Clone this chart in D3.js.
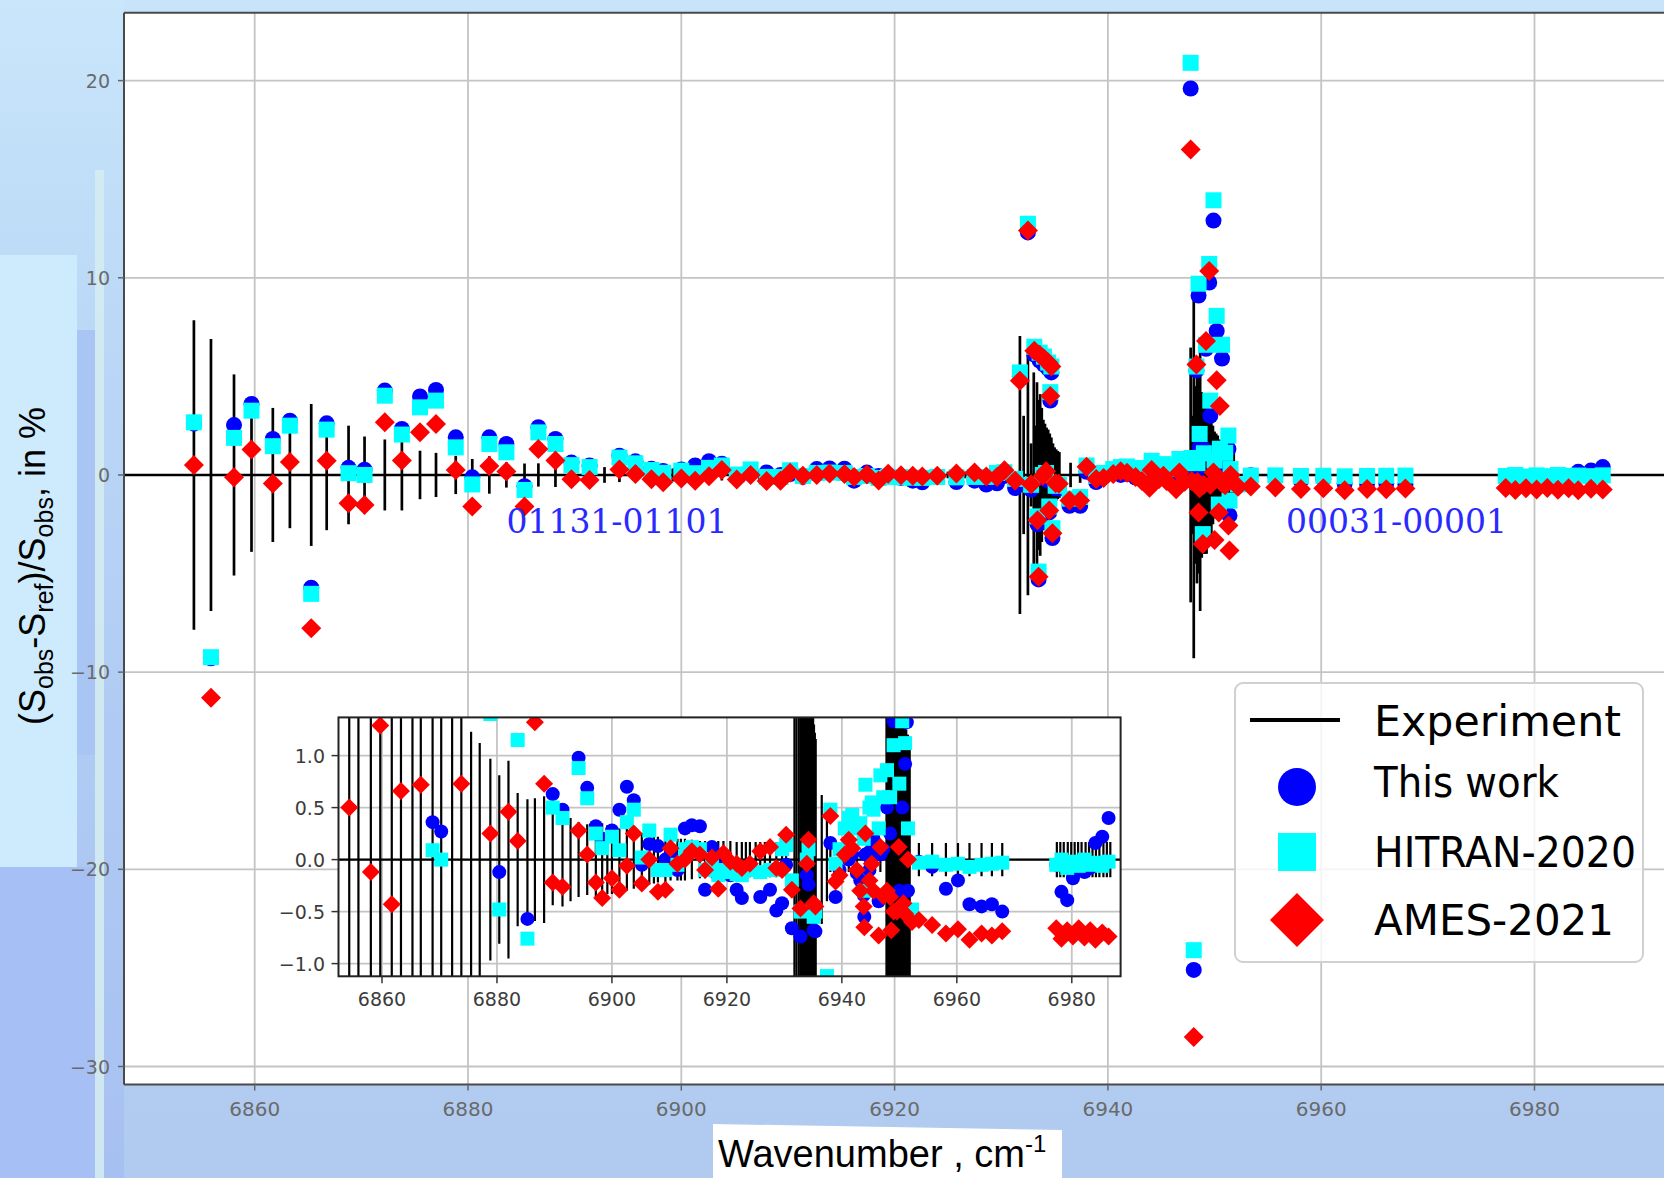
<!DOCTYPE html>
<html><head><meta charset="utf-8">
<script src="https://cdn.jsdelivr.net/npm/d3@7"></script>
<style>html,body{margin:0;padding:0;background:#c6e3fa;overflow:hidden}</style>
</head><body><svg id="c" width="1664" height="1178"></svg>
<script>
// ---------------- DATA ----------------
const xTicks = [6860, 6880, 6900, 6920, 6940, 6960, 6980];
const yTicks = [20, 10, 0, -10, -20, -30];
const insetYTicks = [1.0, 0.5, 0.0, -0.5, -1.0];
const seriesNames = ["Experiment", "This work", "HITRAN-2020", "AMES-2021"];
const bandLabels = ["01131-01101", "00031-00001"];
const bandLabelNu = [6883.6, 6956.7];
const bandLabelVal = [-2.95, -2.95];

const lineNu = [6854.3,6855.9,6858.06,6859.7,6861.7,6863.3,6865.3,6866.75,6868.8,6870.3,6872.2,6873.8,6875.5,6877.0,6878.85,6880.4,6882.0,6883.6,6885.3,6886.6,6888.2,6889.7,6891.4,
6894.2,6895.7,6897.2,6898.3,6900.0,6901.3,6902.6,6903.8,6905.2,6906.5,6908.0,6909.3,6910.2,6911.4,6912.7,6913.9,6915.3,6916.2,6917.4,6918.5,6919.4,6920.6,6921.7,6922.6,6924.0,6925.8,6927.5,6928.6,6929.6,6930.3,
6931.3,6931.75,6932.5,6932.8,6933.1,6933.4,6933.5,6933.6,6933.9,6934.0,6934.2,6934.4,6934.5,6934.6,6934.7,6934.8,6935.1,6935.4,6936.4,6937.4,
6938.0,6938.9,6939.6,6940.5,6941.2,6941.8,6942.6,6943.2,6943.8,6943.9,6944.1,6944.8,6945.2,6945.5,6946.4,6946.7,6947.2,
6947.76,6947.85,6948.05,6948.3,6948.4,6948.5,6948.6,6948.9,6949.0,6949.2,6949.5,6949.6,6949.9,6950.0,6950.2,6950.4,6950.5,6950.7,6951.0,6951.3,6951.4,6951.5,6952.2,
6953.4,6955.7,6958.1,6960.2,6962.2,6964.3,6966.1,6967.9,
6977.3,6978.2,6979.2,6980.2,6981.2,6982.2,6983.2,6984.1,6985.3,6986.4];

const thisWork = [2.6,-9.3,2.53,3.6,1.83,2.75,-5.72,2.62,0.36,0.27,4.28,2.33,3.98,4.31,1.91,-0.12,1.91,1.57,-0.57,2.42,1.83,0.63,0.48,
0.98,0.69,0.32,0.2,0.28,0.48,0.70,0.57,-0.05,0.15,0.13,0.0,0.05,-0.1,0.3,0.33,0.32,-0.29,0.12,-0.05,0.0,-0.15,-0.29,-0.37,-0.1,-0.36,-0.29,-0.49,-0.42,-0.05,
-0.66,5.0,12.3,-0.74,6.1,-2.5,-5.3,5.8,-0.15,5.6,-0.24,5.4,-1.9,3.77,5.2,-3.2,-0.68,-0.69,-1.56,-1.56,
0.16,-0.36,-0.1,0.1,0.0,0.05,-0.13,-0.2,-0.34,-0.55,0.05,-0.1,0.1,0.2,-0.4,0.05,0.1,
19.6,0.5,-25.1,5.3,0.25,9.1,1.4,-3.2,1.33,6.4,9.76,3.0,12.9,-0.3,7.3,-1.8,0.5,5.9,0.92,1.32,-2.05,-0.3,-0.55,
-0.02,-0.07,-0.28,-0.2,-0.43,-0.45,-0.43,-0.5,
-0.05,-0.31,-0.39,-0.18,-0.1,-0.12,-0.08,0.16,0.22,0.4];

const hitran2020 = [2.67,-9.24,1.88,3.26,1.46,2.5,-6.03,2.3,0.09,0.0,4.02,2.05,3.43,3.77,1.4,-0.48,1.57,1.15,-0.76,2.16,1.57,0.5,0.4,
0.88,0.59,0.25,0.11,0.22,0.09,0.36,0.48,0.02,0.28,-0.1,-0.1,0.24,-0.05,0.1,0.12,0.1,-0.1,-0.05,-0.15,-0.1,-0.12,-0.14,-0.15,-0.1,-0.12,-0.1,-0.1,0.1,0.14,
-0.2,5.2,12.74,-0.5,6.5,-2.1,-4.9,6.2,0.0,6.0,0.1,5.7,-1.6,4.2,5.5,-2.7,-0.55,-0.5,-1.2,-1.12,
0.48,-0.04,0.1,0.3,0.4,0.43,0.3,0.35,0.2,-0.3,0.72,0.5,0.55,0.48,0.3,0.81,0.6,
20.9,0.86,-24.1,5.5,0.6,9.7,2.08,-3.0,1.1,6.6,10.7,3.77,13.93,0.73,8.07,-1.5,1.33,6.6,1.12,2.0,-1.3,0.3,-0.48,
-0.03,-0.02,-0.05,-0.04,-0.07,-0.05,-0.04,-0.03,
-0.05,0.0,-0.08,-0.02,-0.06,0.0,-0.05,-0.03,-0.06,-0.02];

const ames2021 = [0.50,-11.3,-0.12,1.29,-0.43,0.66,-7.77,0.72,-1.44,-1.52,2.67,0.73,2.16,2.58,0.25,-1.6,0.46,0.18,-1.6,1.32,0.73,-0.22,-0.26,
0.28,0.05,-0.22,-0.37,-0.18,-0.29,-0.06,0.25,-0.23,0.0,-0.31,-0.29,0.11,-0.04,0.0,0.08,0.05,-0.1,0.02,-0.28,0.06,-0.02,-0.04,-0.08,-0.04,0.08,0.12,-0.08,-0.1,0.24,
-0.29,4.78,12.4,-0.47,6.3,-2.3,-5.16,6.1,-0.04,5.9,0.19,5.7,-1.8,4.0,5.5,-2.96,-0.42,-0.45,-1.3,-1.3,
0.42,-0.21,-0.15,0.05,0.19,0.11,-0.1,-0.3,-0.45,-0.65,0.25,-0.2,-0.04,-0.3,-0.73,0.12,-0.35,
16.5,-0.3,-28.5,5.6,-0.36,-1.9,-0.68,-3.5,-0.5,6.8,10.35,-0.5,0.12,-3.3,4.8,-1.9,3.5,-0.42,-0.52,-2.56,-3.83,0.0,-0.6,
-0.58,-0.63,-0.71,-0.67,-0.77,-0.71,-0.73,-0.69,
-0.66,-0.76,-0.68,-0.74,-0.66,-0.75,-0.68,-0.77,-0.7,-0.74];

const expNu = [6854.3,6855.9,6858.06,6859.7,6861.7,6863.3,6865.3,6866.75,6868.8,6870.3,6872.2,6873.8,6875.5,6877.0,6878.85,6880.4,6882.0,6883.6,6885.3,6886.6,6888.2,6889.7,6891.4,
6892.8,6894.2,6895.7,6897.2,6898.3,6899.2,6900.0,6901.3,6902.6,6903.8,6905.2,6906.5,6907.3,6908.0,6909.3,6910.2,6911.4,6912.0,6912.7,6913.9,6915.3,6916.2,6917.4,6918.5,6919.4,6920.6,6921.7,6922.6,6923.3,6924.0,6925.0,6925.8,6926.6,6927.5,6928.6,6929.6,6930.3,
6931.75,6932.1,6932.5,6932.8,6933.05,6933.2,6933.35,6933.5,6933.65,6933.8,6933.95,6934.1,6934.25,6934.4,6934.55,6934.7,6934.85,6935.0,6935.15,6935.3,6935.45,6936.5,6937.4,
6938.0,6939.6,6941.2,6942.6,6944.1,6945.5,6946.7,
6947.76,6947.9,6948.05,6948.2,6948.35,6948.5,6948.65,6948.8,6948.95,6949.1,6949.25,6949.4,6949.55,6949.7,6949.85,6950.0,6950.15,6950.3,6950.45,6950.6,6950.75,6950.9,6951.05,6951.2,6951.35,6951.5,6951.65,6951.8,
6953.4,6955.7,6958.1,6960.2,6962.2,6964.3,6966.1,6967.9,
6977.4,6978.0,6978.6,6979.3,6979.9,6980.5,6981.1,6981.7,6982.4,6983.0,6983.6,6984.2,6984.8,6985.5,6986.1,6986.7];

const expErr = [7.85,6.9,5.1,3.9,3.4,2.7,3.6,2.8,2.5,1.95,1.8,1.8,1.23,1.12,0.97,0.81,0.95,0.64,0.58,0.59,0.61,0.44,0.45,
0.4,0.36,0.34,0.36,0.35,0.33,0.33,0.3,0.3,0.28,0.25,0.24,0.23,0.22,0.22,0.2,0.2,0.2,0.2,0.19,0.18,0.18,0.18,0.18,0.18,0.18,0.17,0.17,0.17,0.17,0.17,0.17,0.17,0.17,0.17,0.17,0.17,
7.05,3.0,6.1,1.6,5.2,2.5,4.7,3.8,4.1,3.4,2.8,2.6,2.4,2.3,2.1,1.9,1.6,1.4,1.3,1.22,1.16,0.62,0.4,
0.12,0.12,0.12,0.12,0.12,0.12,0.12,
6.46,3.0,9.3,4.5,5.5,5.0,6.9,4.2,4.0,4.0,4.0,3.6,3.0,3.0,2.5,2.2,2.1,2.0,1.8,1.6,1.5,1.4,1.3,1.25,1.2,1.2,1.18,1.15,
0.16,0.16,0.16,0.16,0.16,0.16,0.16,0.16,
0.17,0.17,0.17,0.17,0.17,0.17,0.17,0.17,0.17,0.17,0.17,0.17,0.17,0.17,0.17,0.17];

// ---------------- DRAW ----------------
const W = 1664, H = 1178;
const svg = d3.select('#c');
const defs = svg.append('defs');

function vgrad(id, stops) {
  const g = defs.append('linearGradient').attr('id', id).attr('x1', 0).attr('y1', 0).attr('x2', 0).attr('y2', 1);
  stops.forEach(s => g.append('stop').attr('offset', s[0]).attr('stop-color', s[1]));
}
vgrad('bgGrad', [[0, '#c7e4fb'], [1, '#b0caf0']]);
vgrad('leftGrad', [[0, '#c9e6fb'], [0.25, '#bcd9f7'], [0.65, '#afcaf3'], [1, '#a7c0f2']]);

// slide background
svg.append('rect').attr('width', W).attr('height', H).attr('fill', 'url(#bgGrad)');
svg.append('rect').attr('x', 0).attr('y', 0).attr('width', 124).attr('height', H).attr('fill', 'url(#leftGrad)');
svg.append('rect').attr('x', 77).attr('y', 330).attr('width', 18).attr('height', 425).attr('fill', '#a9c5f4');
svg.append('rect').attr('x', 0).attr('y', 867).attr('width', 95).attr('height', H - 867).attr('fill', '#a6bff4');
svg.append('rect').attr('x', 0).attr('y', 255).attr('width', 77).attr('height', 612).attr('fill', '#cdebfd');
svg.append('rect').attr('x', 95).attr('y', 170).attr('width', 9).attr('height', H - 170).attr('fill', '#d4ebf0').attr('opacity', 0.9);

// main scales
const PL = 124, PT = 12.7, PB = 1084.6;
const x = d3.scaleLinear().domain([6860, 6980]).range([254.7, 1534.5]);
const y = d3.scaleLinear().domain([20, -30]).range([80.6, 1066.5]);

svg.append('rect').attr('x', PL).attr('y', PT).attr('width', W + 40 - PL).attr('height', PB - PT).attr('fill', '#ffffff');
defs.append('clipPath').attr('id', 'mainClip').append('rect').attr('x', PL).attr('y', PT).attr('width', W + 40 - PL).attr('height', PB - PT);

const main = svg.append('g');
const mainData = main.append('g').attr('clip-path', 'url(#mainClip)');

// grid
mainData.selectAll('line.gx').data(xTicks).join('line')
  .attr('x1', d => x(d)).attr('x2', d => x(d)).attr('y1', PT).attr('y2', PB)
  .attr('stroke', '#c4c4c4').attr('stroke-width', 1.8);
mainData.selectAll('line.gy').data(yTicks).join('line')
  .attr('x1', PL).attr('x2', W + 40).attr('y1', d => y(d)).attr('y2', d => y(d))
  .attr('stroke', '#c4c4c4').attr('stroke-width', 1.8);

const pts = lineNu.map((nu, i) => ({ nu, tw: thisWork[i], hi: hitran2020[i], am: ames2021[i] }));
const bars = expNu.map((nu, i) => ({ nu, e: expErr[i] }));

function drawData(g, xs, ys, opt) {
  g.append('g').selectAll('line').data(bars).join('line')
    .attr('x1', d => xs(d.nu)).attr('x2', d => xs(d.nu))
    .attr('y1', d => ys(d.e)).attr('y2', d => ys(-d.e))
    .attr('stroke', '#000').attr('stroke-width', opt.bw);
  g.append('line').attr('x1', opt.x0).attr('x2', opt.x1).attr('y1', ys(0)).attr('y2', ys(0))
    .attr('stroke', '#000').attr('stroke-width', opt.zw);
  g.append('g').selectAll('circle').data(pts).join('circle')
    .attr('cx', d => xs(d.nu)).attr('cy', d => ys(d.tw)).attr('r', opt.r).attr('fill', '#0000ff');
  g.append('g').selectAll('rect').data(pts).join('rect')
    .attr('x', d => xs(d.nu) - opt.s / 2).attr('y', d => ys(d.hi) - opt.s / 2)
    .attr('width', opt.s).attr('height', opt.s).attr('fill', '#00ffff');
  g.append('g').selectAll('path').data(pts).join('path')
    .attr('d', d => { const cx = xs(d.nu), cy = ys(d.am), h = opt.h; return `M${cx},${cy - h}L${cx + h},${cy}L${cx},${cy + h}L${cx - h},${cy}Z`; })
    .attr('fill', '#ff0000');
}
drawData(mainData, x, y, { bw: 2.7, zw: 2.6, r: 8, s: 16, h: 10, x0: PL, x1: W + 40 });

// spines
main.append('line').attr('x1', PL).attr('x2', PL).attr('y1', PT).attr('y2', PB).attr('stroke', '#4a4a4a').attr('stroke-width', 2);
main.append('line').attr('x1', PL).attr('x2', W + 40).attr('y1', PT).attr('y2', PT).attr('stroke', '#4a4a4a').attr('stroke-width', 2);
main.append('line').attr('x1', PL).attr('x2', W + 40).attr('y1', PB).attr('y2', PB).attr('stroke', '#4a4a4a').attr('stroke-width', 2);

// ticks
main.selectAll('line.ty').data(yTicks).join('line').attr('class', 'ty')
  .attr('x1', PL - 6).attr('x2', PL).attr('y1', d => y(d)).attr('y2', d => y(d)).attr('stroke', '#666').attr('stroke-width', 1.5);
main.selectAll('text.ty').data(yTicks).join('text').attr('class', 'ty')
  .attr('x', 110).attr('y', d => y(d) + 7).attr('text-anchor', 'end')
  .attr('font-family', 'DejaVu Sans').attr('font-size', 19).attr('fill', '#6a6a6a')
  .text(d => d3.format('d')(d));
main.selectAll('line.tx').data(xTicks).join('line').attr('class', 'tx')
  .attr('x1', d => x(d)).attr('x2', d => x(d)).attr('y1', PB).attr('y2', PB + 6).attr('stroke', '#666').attr('stroke-width', 1.5);
main.selectAll('text.tx').data(xTicks).join('text').attr('class', 'tx')
  .attr('x', d => x(d)).attr('y', 1116).attr('text-anchor', 'middle')
  .attr('font-family', 'DejaVu Sans').attr('font-size', 20).attr('fill', '#6a6a6a')
  .text(d => d);

// band labels
main.selectAll('text.band').data(bandLabels).join('text').attr('class', 'band')
  .attr('x', (d, i) => x(bandLabelNu[i])).attr('y', (d, i) => y(bandLabelVal[i]))
  .attr('font-family', 'DejaVu Serif').attr('font-size', 33).attr('fill', '#2a2aff')
  .text(d => d);

// ---------------- INSET ----------------
const IL = 338.5, IR = 1120.6, IT = 717.4, IB = 976.3;
const xi = d3.scaleLinear().domain([6860, 6980]).range([382, 1071.8]);
const yi = d3.scaleLinear().domain([1, -1]).range([755.6, 963.6]);
const inset = svg.append('g');
inset.append('rect').attr('x', IL).attr('y', IT).attr('width', IR - IL).attr('height', IB - IT).attr('fill', '#fff');
defs.append('clipPath').attr('id', 'insetClip').append('rect').attr('x', IL).attr('y', IT).attr('width', IR - IL).attr('height', IB - IT);
const insetData = inset.append('g').attr('clip-path', 'url(#insetClip)');
insetData.selectAll('line.gx').data(xTicks).join('line')
  .attr('x1', d => xi(d)).attr('x2', d => xi(d)).attr('y1', IT).attr('y2', IB)
  .attr('stroke', '#c4c4c4').attr('stroke-width', 1.8);
insetData.selectAll('line.gy').data(insetYTicks).join('line')
  .attr('x1', IL).attr('x2', IR).attr('y1', d => yi(d)).attr('y2', d => yi(d))
  .attr('stroke', '#c4c4c4').attr('stroke-width', 1.8);
drawData(insetData, xi, yi, { bw: 2.2, zw: 2.2, r: 7, s: 14, h: 9, x0: IL, x1: IR });
inset.append('rect').attr('x', IL).attr('y', IT).attr('width', IR - IL).attr('height', IB - IT)
  .attr('fill', 'none').attr('stroke', '#222').attr('stroke-width', 2);
inset.selectAll('line.ty').data(insetYTicks).join('line')
  .attr('x1', IL - 7).attr('x2', IL).attr('y1', d => yi(d)).attr('y2', d => yi(d)).attr('stroke', '#333').attr('stroke-width', 1.5);
inset.selectAll('text.ty').data(insetYTicks).join('text')
  .attr('x', 325).attr('y', d => yi(d) + 7).attr('text-anchor', 'end')
  .attr('font-family', 'DejaVu Sans').attr('font-size', 19).attr('fill', '#3c3c3c')
  .text(d => d3.format('.1f')(d));
inset.selectAll('line.tx').data(xTicks).join('line')
  .attr('x1', d => xi(d)).attr('x2', d => xi(d)).attr('y1', IB).attr('y2', IB + 7).attr('stroke', '#333').attr('stroke-width', 1.5);
inset.selectAll('text.tx').data(xTicks).join('text')
  .attr('x', d => xi(d)).attr('y', 1006).attr('text-anchor', 'middle')
  .attr('font-family', 'DejaVu Sans').attr('font-size', 19).attr('fill', '#3c3c3c')
  .text(d => d);

// ---------------- LEGEND ----------------
const lg = svg.append('g');
lg.append('rect').attr('x', 1235).attr('y', 683).attr('width', 408).attr('height', 279).attr('rx', 8)
  .attr('fill', '#fff').attr('fill-opacity', 0.82).attr('stroke', '#d0d0d0').attr('stroke-width', 2);
const legY = [720, 787, 852, 920];
const legW = [247, 185, 262, 240];
lg.append('line').attr('x1', 1250).attr('x2', 1340).attr('y1', legY[0]).attr('y2', legY[0]).attr('stroke', '#000').attr('stroke-width', 4);
lg.append('circle').attr('cx', 1297).attr('cy', legY[1]).attr('r', 19).attr('fill', '#0000ff');
lg.append('rect').attr('x', 1297 - 19).attr('y', legY[2] - 19).attr('width', 38).attr('height', 38).attr('fill', '#00ffff');
lg.append('path').attr('d', `M1297,${legY[3] - 27}L1324,${legY[3]}L1297,${legY[3] + 27}L1270,${legY[3]}Z`).attr('fill', '#ff0000');
lg.selectAll('text').data(seriesNames).join('text')
  .attr('x', 1374).attr('y', (d, i) => [736, 797, 867, 935][i])
  .attr('font-family', 'DejaVu Sans').attr('font-size', 43).attr('fill', '#000')
  .attr('textLength', (d, i) => legW[i]).attr('lengthAdjust', 'spacingAndGlyphs')
  .text(d => d);

// ---------------- AXIS TITLES ----------------
const yl = svg.append('text').attr('transform', 'translate(45,566) rotate(-90)')
  .attr('text-anchor', 'middle').attr('font-family', 'Liberation Sans, Arial').attr('font-size', 36).attr('fill', '#000');
yl.append('tspan').text('(S');
yl.append('tspan').attr('font-size', 25).attr('dy', 8).text('obs');
yl.append('tspan').attr('dy', -8).text('-S');
yl.append('tspan').attr('font-size', 25).attr('dy', 8).text('ref');
yl.append('tspan').attr('dy', -8).text(')/S');
yl.append('tspan').attr('font-size', 25).attr('dy', 8).text('obs');
yl.append('tspan').attr('dy', -8).text(', in %');

svg.append('polygon').attr('points', '713,1124 1062,1130 1062,1178 713,1178').attr('fill', '#fff');
const xl = svg.append('text').attr('x', 718).attr('y', 1167)
  .attr('font-family', 'Liberation Sans, Arial').attr('font-size', 38).attr('fill', '#000');
xl.append('tspan').text('Wavenumber , cm');
xl.append('tspan').attr('font-size', 24).attr('dy', -15).text('-1');
</script></body></html>
